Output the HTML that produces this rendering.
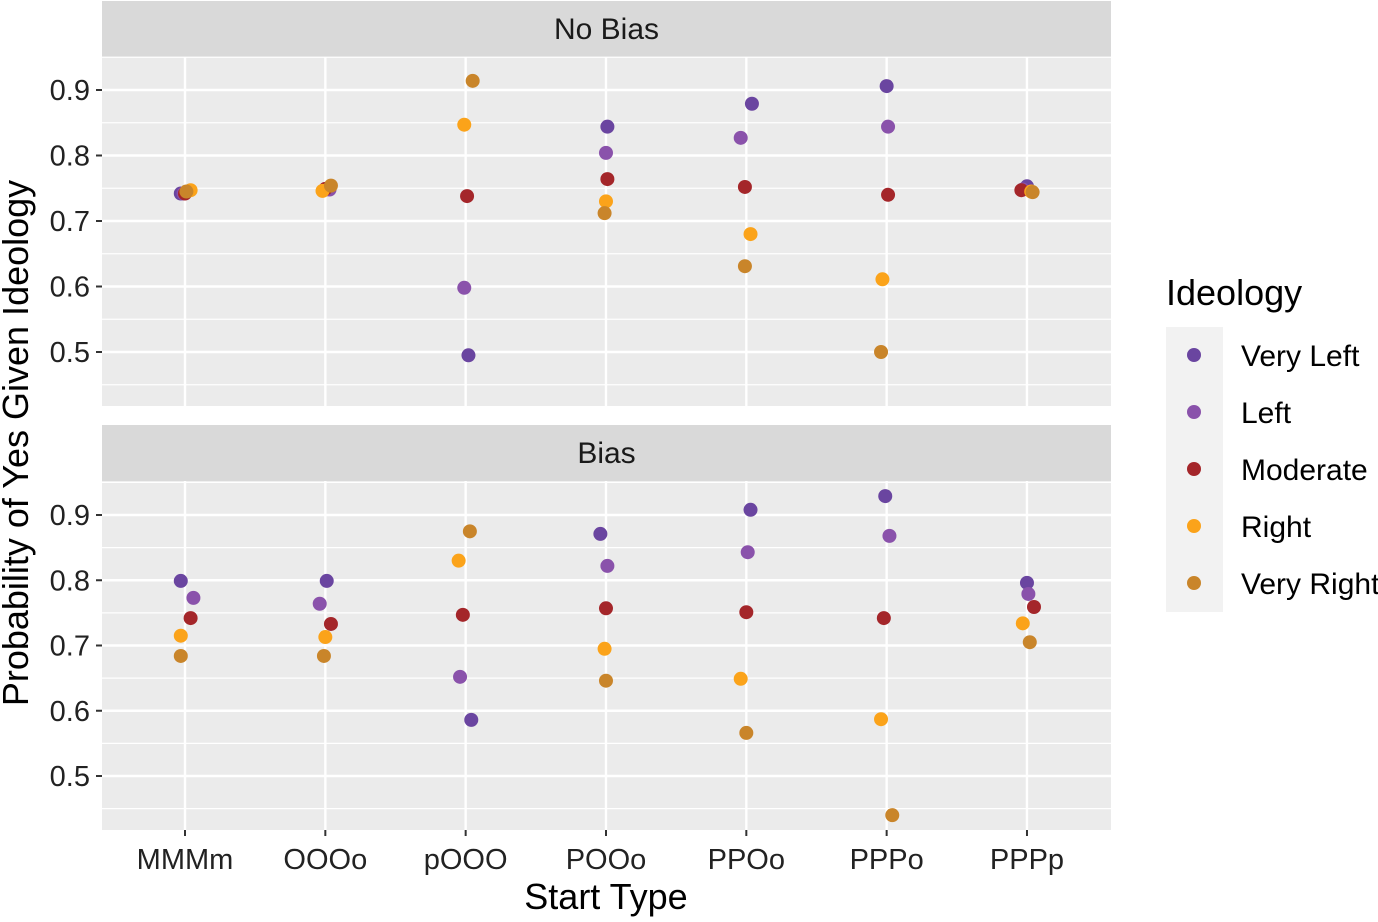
<!DOCTYPE html>
<html><head><meta charset="utf-8"><style>
body{margin:0;background:#fff}
text{font-family:"Liberation Sans",Arial,sans-serif}
</style></head><body>
<svg id="chart" width="1378" height="917" xmlns="http://www.w3.org/2000/svg"></svg>
<script>
const categories=["MMMm","OOOo","pOOO","POOo","PPOo","PPPo","PPPp"];
const series=["Very Left","Left","Moderate","Right","Very Right"];
const colors=["#6a45a0","#8a52ab","#a4262a","#fba31a","#c9852a"];
const yTicks=[0.5,0.6,0.7,0.8,0.9];
const facets=["No Bias","Bias"];
const noBiasVeryLeft=[0.742,0.748,0.495,0.844,0.879,0.906,0.753];
const noBiasLeft=[0.742,0.748,0.598,0.804,0.827,0.844,0.748];
const noBiasModerate=[0.742,0.749,0.738,0.764,0.752,0.740,0.747];
const noBiasRight=[0.747,0.746,0.847,0.730,0.680,0.611,0.745];
const noBiasVeryRight=[0.745,0.754,0.914,0.712,0.631,0.500,0.744];
const biasVeryLeft=[0.799,0.799,0.586,0.871,0.908,0.929,0.796];
const biasLeft=[0.773,0.764,0.652,0.822,0.843,0.868,0.779];
const biasModerate=[0.742,0.733,0.747,0.757,0.751,0.742,0.759];
const biasRight=[0.715,0.713,0.830,0.695,0.649,0.587,0.734];
const biasVeryRight=[0.684,0.684,0.875,0.646,0.566,0.440,0.705];
const noBiasJitter=[[-0.03,0.00,0.02,0.01,0.04,0.00,0.00],[-0.01,0.03,-0.01,0.00,-0.04,0.01,-0.03],[0.00,0.00,0.01,0.01,-0.01,0.01,-0.04],[0.04,-0.02,-0.01,0.00,0.03,-0.03,0.03],[0.01,0.04,0.05,-0.01,-0.01,-0.04,0.04]];
const biasJitter=[[-0.03,0.01,0.04,-0.04,0.03,-0.01,0.00],[0.06,-0.04,-0.04,0.01,0.01,0.02,0.01],[0.04,0.04,-0.02,0.00,0.00,-0.02,0.05],[-0.03,0.00,-0.05,-0.01,-0.04,-0.04,-0.03],[-0.03,-0.01,0.03,0.00,0.00,0.04,0.02]];
const facetData=[[noBiasVeryLeft,noBiasLeft,noBiasModerate,noBiasRight,noBiasVeryRight],[biasVeryLeft,biasLeft,biasModerate,biasRight,biasVeryRight]];
const facetJitter=[noBiasJitter,biasJitter];

const svg=document.getElementById('chart');
const NS="http://www.w3.org/2000/svg";
function mk(tag,attrs,parent){const e=document.createElementNS(NS,tag);for(const k in attrs)e.setAttribute(k,attrs[k]);(parent||svg).appendChild(e);return e;}
const px0=102,px1=1111;
function xPos(i){return 185+i*140.33;}
const panels=[{strip:1,top:57,bot:406,y09:90,y05:352},{strip:425,top:481,bot:830,y09:515,y05:776}];
panels.forEach((p,fi)=>{
  const yS=v=>p.y05+(v-0.5)*(p.y09-p.y05)/0.4;
  const s=mk('rect',{x:px0,y:p.strip,width:px1-px0,height:p.top-p.strip,fill:'#d9d9d9'});
  
  
  const st=mk('text',{x:(px0+px1)/2,y:p.strip+38,'text-anchor':'middle','font-size':30,fill:'#1a1a1a'});
  st.textContent=facets[fi];
  
  
  const bg=mk('rect',{x:px0,y:p.top,width:px1-px0,height:p.bot-p.top,fill:'#ebebeb'});
  
  
  for(let v=0.45;v<0.96;v+=0.1){const y=yS(v);if(y>p.top&&y<p.bot)mk('line',{x1:px0,x2:px1,y1:y,y2:y,stroke:'#fff','stroke-width':1.2});}
  yTicks.forEach(v=>{const y=yS(v);mk('line',{x1:px0,x2:px1,y1:y,y2:y,stroke:'#fff','stroke-width':2.4});
    mk('line',{x1:96,x2:102,y1:y,y2:y,stroke:'#333','stroke-width':2});
    const t=mk('text',{x:90,y:y+10,'text-anchor':'end','font-size':29,fill:'#222'});t.textContent=v.toFixed(1);
    
    });
  categories.forEach((c,i)=>mk('line',{x1:xPos(i),x2:xPos(i),y1:p.top,y2:p.bot,stroke:'#fff','stroke-width':2.4}));
  facetData[fi].forEach((arr,si)=>arr.forEach((v,i)=>{
    const c=mk('circle',{cx:xPos(i)+facetJitter[fi][si][i]*140.33,cy:yS(v),r:7,fill:colors[si]});
    
    
  }));
});
categories.forEach((c,i)=>{mk('line',{x1:xPos(i),x2:xPos(i),y1:830,y2:836,stroke:'#333','stroke-width':2});
  const t=mk('text',{x:xPos(i),y:869,'text-anchor':'middle','font-size':29,fill:'#222'});t.textContent=c;
  
  });
const xt=mk('text',{x:606,y:909,'text-anchor':'middle','font-size':36,fill:'#000'});xt.textContent='Start Type';


const yt=mk('text',{x:0,y:0,'text-anchor':'middle','font-size':36,fill:'#000',transform:'translate(28,443) rotate(-90)'});yt.textContent='Probability of Yes Given Ideology';


const lt=mk('text',{x:1166,y:305,'font-size':36,fill:'#000'});lt.textContent='Ideology';


const lb=mk('rect',{x:1166,y:327,width:57,height:285,fill:'#f2f2f2'});


series.forEach((s,i)=>{const y=355+i*57;
  const c=mk('circle',{cx:1194,cy:y,r:7,fill:colors[i]});
  
  
  const t=mk('text',{x:1241,y:y+11,'font-size':30,fill:'#000'});t.textContent=s;
  
  });
</script>
</body></html>
